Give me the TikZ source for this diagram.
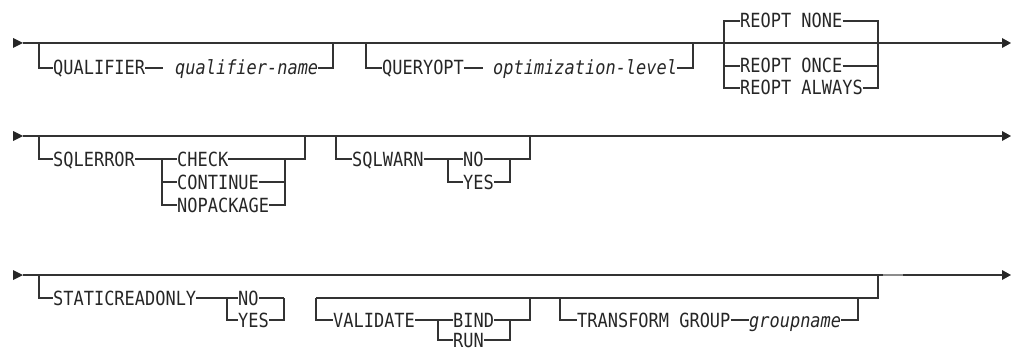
\documentclass[tikz,border=0pt]{standalone}
\usepackage{fontspec}
\newfontfamily\rrfont[FakeStretch=0.87]{DejaVu Sans Mono}
\begin{document}
\begin{tikzpicture}[x=1pt,y=-1pt,
  rail/.style={draw=black!80, line width=1.2pt},
  kw/.style={anchor=west, inner sep=0pt, text height=14pt, text depth=0pt,
    font=\rrfont\fontsize{19.5}{19.5}\selectfont, text=black!85},
  var/.style={kw, font=\rrfont\itshape\fontsize{19.5}{19.5}\selectfont},
  tipshape/.style={fill=black!85, draw=none}
]
\useasboundingbox (0,0) rectangle (1011,350);

% ---------- Row 1 ----------
\coordinate (s1) at (23,43);
\coordinate (e1) at (1003,43);
\fill[tipshape] (13,38) -- (23,43) -- (13,48) -- cycle;
\fill[tipshape] (1002,38) -- (1011,43) -- (1002,48) -- cycle;
\draw[rail] (s1) -- (e1);

\node[kw]  (qual)  at (53,68)  {QUALIFIER};
\node[var] (qualn) at (175,68) {qualifier-name};
\coordinate (qa) at (39,43);
\coordinate (qb) at (163,68);
\coordinate (qc) at (333,43);
\draw[rail] (qa) |- (qual.west);
\draw[rail] (qual.east) -- (qb);
\draw[rail] (qualn.east) -| (qc);

\node[kw]  (qopt)  at (382,68) {QUERYOPT};
\node[var] (qoptn) at (493,68) {optimization-level};
\coordinate (oa) at (366,43);
\coordinate (ob) at (483,68);
\coordinate (oc) at (693,43);
\draw[rail] (oa) |- (qopt.west);
\draw[rail] (qopt.east) -- (ob);
\draw[rail] (qoptn.east) -| (oc);

\node[kw] (rnone)   at (740,21) {REOPT NONE};
\node[kw] (ronce)   at (740,66) {REOPT ONCE};
\node[kw] (ralways) at (740,88) {REOPT ALWAYS};
\coordinate (rl) at (724,43);
\coordinate (rr) at (878,43);
\draw[rail] (rl) |- (rnone.west);
\draw[rail] (rl) |- (ralways.west);
\draw[rail] (rl |- ronce.west) -- (ronce.west);
\draw[rail] (rnone.east) -| (rr);
\draw[rail] (ralways.east) -| (rr);
\draw[rail] (ronce.east) -- (rr |- ronce.east);

% ---------- Row 2 ----------
\coordinate (s2) at (23,136);
\coordinate (e2) at (1003,136);
\fill[tipshape] (13,131) -- (23,136) -- (13,141) -- cycle;
\fill[tipshape] (1002,131) -- (1011,136) -- (1002,141) -- cycle;
\draw[rail] (s2) -- (e2);

\node[kw] (sqle)  at (53,159)  {SQLERROR};
\node[kw] (check) at (177,159) {CHECK};
\node[kw] (cont)  at (177,182) {CONTINUE};
\node[kw] (nopk)  at (177,205) {NOPACKAGE};
\coordinate (ea) at (39,136);
\coordinate (eb) at (162,159);
\coordinate (ec) at (285,159);
\coordinate (ed) at (305,136);
\draw[rail] (ea) |- (sqle.west);
\draw[rail] (sqle.east) -- (eb);
\draw[rail] (eb) |- (nopk.west);
\draw[rail] (eb) -- (check.west);
\draw[rail] (eb |- cont.west) -- (cont.west);
\draw[rail] (check.east) -- (ec);
\draw[rail] (nopk.east) -| (ec);
\draw[rail] (cont.east) -- (ec |- cont.east);
\draw[rail] (ec) -| (ed);

\node[kw] (sqlw) at (352,159) {SQLWARN};
\node[kw] (wno)  at (463,159) {NO};
\node[kw] (wyes) at (463,182) {YES};
\coordinate (wa) at (336,136);
\coordinate (wb) at (448,159);
\coordinate (wc) at (510,159);
\coordinate (wd) at (530,136);
\draw[rail] (wa) |- (sqlw.west);
\draw[rail] (sqlw.east) -- (wb) -- (wno.west);
\draw[rail] (wb) |- (wyes.west);
\draw[rail] (wno.east) -- (wc);
\draw[rail] (wyes.east) -| (wc);
\draw[rail] (wc) -| (wd);

% ---------- Row 3 ----------
\coordinate (s3) at (23,275);
\coordinate (e3) at (1003,275);
\fill[tipshape] (13,270) -- (23,275) -- (13,280) -- cycle;
\fill[tipshape] (1002,270) -- (1011,275) -- (1002,280) -- cycle;
\draw[rail] (s3) -- (e3);
\draw[draw=black!45, line width=1.6pt] (883,275) -- (903,275);

\node[kw] (stat) at (53,298)  {STATICREADONLY};
\node[kw] (sno)  at (238,298) {NO};
\node[kw] (syes) at (238,320) {YES};
\coordinate (ta) at (39,275);
\coordinate (tb) at (227,298);
\coordinate (tc) at (284,298);
\draw[rail] (ta) |- (stat.west);
\draw[rail] (stat.east) -- (tb) -- (sno.west);
\draw[rail] (tb) |- (syes.west);
\draw[rail] (sno.east) -- (tc);
\draw[rail] (syes.east) -| (tc);

\coordinate (sub1) at (316,298);
\coordinate (sub2) at (878,298);
\coordinate (sub3) at (878,275);
\draw[rail] (sub1) -- (sub2) -- (sub3);

\node[kw] (valid) at (333,320) {VALIDATE};
\node[kw] (bind)  at (453,320) {BIND};
\node[kw] (run)   at (453,340) {RUN};
\coordinate (va) at (438,320);
\coordinate (vb) at (510,320);
\coordinate (vc) at (530,298);
\draw[rail] (sub1) |- (valid.west);
\draw[rail] (valid.east) -- (va) -- (bind.west);
\draw[rail] (va) |- (run.west);
\draw[rail] (bind.east) -- (vb);
\draw[rail] (run.east) -| (vb);
\draw[rail] (vb) -| (vc);

\node[kw]  (tgrp)  at (577,320) {TRANSFORM GROUP};
\node[var] (gname) at (749,320) {groupname};
\coordinate (ga) at (560,298);
\coordinate (gc) at (858,298);
\draw[rail] (ga) |- (tgrp.west);
\draw[rail] (tgrp.east) -- (gname.west);
\draw[rail] (gname.east) -| (gc);
\end{tikzpicture}
\end{document}
